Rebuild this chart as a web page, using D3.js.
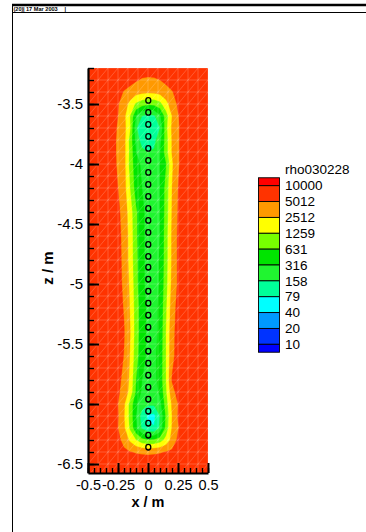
<!DOCTYPE html>
<html><head><meta charset="utf-8">
<script src="https://cdn.jsdelivr.net/npm/d3@7"></script>
<style>html,body{margin:0;padding:0;background:#fff;} svg{display:block;font-family:"Liberation Sans",Arial,sans-serif;}</style>
</head><body><svg id="c" width="366" height="532"></svg>
<script>
// ---- data ----
const xNodes = [-0.5,-0.35,-0.3,-0.25,-0.2,-0.15,-0.1,-0.05,0,0.05,0.1,0.15,0.2,0.25,0.3,0.35,0.5];
const zNodes = [-3.2,-3.3,-3.4,-3.5,-3.6,-3.7,-3.8,-3.9,-4.0,-4.2,-4.4,-4.6,-4.8,-5.0,-5.2,-5.4,-5.6,-5.8,-5.9,-6.0,-6.1,-6.2,-6.3,-6.4,-6.5,-6.6];
// log10(rho) at the nodes, one row per z node
const logRho = [
[3.85,3.85,3.85,3.85,3.85,3.85,3.85,3.85,3.85,3.85,3.85,3.85,3.85,3.85,3.85,3.85,3.85],
[3.85,3.85,3.85,3.85,3.84,3.8,3.73,3.67,3.65,3.66,3.7,3.78,3.84,3.85,3.85,3.85,3.85],
[3.85,3.85,3.85,3.8,3.68,3.6,3.52,3.47,3.45,3.46,3.5,3.58,3.68,3.8,3.85,3.85,3.85],
[3.85,3.85,3.84,3.72,3.55,3.32,3.05,2.92,2.85,2.88,3.0,3.3,3.55,3.74,3.84,3.85,3.85],
[3.85,3.85,3.83,3.7,3.48,3.1,2.5,2.2,2.1,2.15,2.45,2.95,3.4,3.68,3.83,3.85,3.85],
[3.85,3.85,3.84,3.66,3.5,3.14,2.25,1.95,1.93,1.97,2.2,3.0,3.45,3.66,3.84,3.85,3.85],
[3.85,3.85,3.82,3.64,3.5,3.0,2.4,2.05,2.0,2.1,2.4,2.95,3.42,3.66,3.84,3.85,3.85],
[3.85,3.85,3.82,3.64,3.5,3.02,2.5,2.28,2.2,2.24,2.48,2.95,3.42,3.66,3.84,3.85,3.85],
[3.85,3.85,3.83,3.65,3.5,3.0,2.6,2.45,2.4,2.42,2.5,2.78,3.35,3.66,3.84,3.85,3.85],
[3.85,3.85,3.83,3.7,3.52,3.1,2.65,2.5,2.42,2.42,2.5,2.9,3.4,3.7,3.84,3.85,3.85],
[3.85,3.85,3.83,3.76,3.58,3.25,2.85,2.55,2.42,2.4,2.5,2.92,3.42,3.72,3.84,3.85,3.85],
[3.85,3.85,3.83,3.8,3.6,3.3,2.85,2.55,2.42,2.4,2.5,2.95,3.45,3.75,3.84,3.85,3.85],
[3.85,3.85,3.84,3.8,3.62,3.3,2.88,2.55,2.43,2.42,2.52,2.95,3.45,3.75,3.84,3.85,3.85],
[3.85,3.85,3.84,3.81,3.64,3.35,2.9,2.55,2.43,2.42,2.52,2.98,3.48,3.74,3.84,3.85,3.85],
[3.85,3.85,3.84,3.82,3.68,3.38,2.95,2.6,2.45,2.43,2.55,3.05,3.55,3.8,3.84,3.85,3.85],
[3.85,3.85,3.84,3.83,3.72,3.42,2.95,2.6,2.45,2.43,2.55,3.1,3.6,3.82,3.84,3.85,3.85],
[3.85,3.85,3.84,3.82,3.69,3.38,2.92,2.58,2.45,2.45,2.58,3.1,3.62,3.82,3.84,3.85,3.85],
[3.85,3.85,3.84,3.78,3.62,3.35,2.8,2.5,2.42,2.42,2.6,3.1,3.72,3.84,3.85,3.85,3.85],
[3.85,3.85,3.84,3.74,3.6,3.3,2.75,2.45,2.35,2.38,2.55,3.05,3.6,3.8,3.85,3.85,3.85],
[3.85,3.85,3.83,3.7,3.45,3.0,2.55,2.35,2.25,2.25,2.4,2.95,3.45,3.7,3.84,3.85,3.85],
[3.85,3.85,3.82,3.72,3.42,3.0,2.5,2.05,1.85,1.82,2.2,2.85,3.4,3.72,3.83,3.85,3.85],
[3.85,3.85,3.82,3.7,3.45,3.05,2.55,2.15,1.95,1.92,2.25,2.9,3.42,3.68,3.83,3.85,3.85],
[3.85,3.85,3.84,3.78,3.6,3.35,3.1,2.9,2.8,2.82,2.95,3.2,3.5,3.76,3.84,3.85,3.85],
[3.85,3.85,3.85,3.82,3.76,3.71,3.68,3.66,3.65,3.66,3.68,3.71,3.76,3.82,3.85,3.85,3.85],
[3.85,3.85,3.85,3.85,3.85,3.85,3.85,3.85,3.85,3.85,3.85,3.85,3.85,3.85,3.85,3.85,3.85],
[3.85,3.85,3.85,3.85,3.85,3.85,3.85,3.85,3.85,3.85,3.85,3.85,3.85,3.85,3.85,3.85,3.85]
];
const legendTitle = "rho030228";
const legendValues = [10000,5012,2512,1259,631,316,158,79,40,20,10];
// band colours from lowest (<10) to highest (>10000)
const bandColors = ["#0000FF","#0033FF","#0099FF","#00FFFF","#00FF99","#20F530","#00E400","#77FF00","#FFFF00","#FF9900","#FF3300","#FF0000"];
const electrodeX = 0;
const electrodeZ = [-3.47,-3.57,-3.67,-3.77,-3.87,-3.97,-4.07,-4.17,-4.27,-4.37,-4.47,-4.57,-4.67,-4.77,-4.86,-4.96,-5.06,-5.16,-5.26,-5.36,-5.46,-5.56,-5.66,-5.76,-5.86,-5.96,-6.06,-6.16,-6.26,-6.36];
const yTicks = [-3.5,-4,-4.5,-5,-5.5,-6,-6.5];
const yTickLabels = ["-3.5","-4","-4.5","-5","-5.5","-6","-6.5"];
const xTicks = [-0.5,-0.25,0,0.25,0.5];
const xTickLabels = ["-0.5","-0.25","0","0.25","0.5"];
const headerParts = ["(20)","|","17 Mar 2003","|"];

// ---- drawing ----
const svg = d3.select("#c");
const P = {l:88, r:208, t:68, b:473};
const x = d3.scaleLinear().domain([-0.5,0.5]).range([P.l,P.r]);
const y = d3.scaleLinear().domain([-3.2,-6.575]).range([P.t,P.b]);

// frame / header
svg.append("line").attr("x1",12).attr("x2",366).attr("y1",5).attr("y2",5).attr("stroke","#000").attr("stroke-width",2.5);
svg.append("line").attr("x1",12).attr("x2",366).attr("y1",12.5).attr("y2",12.5).attr("stroke","#000").attr("stroke-width",1);
svg.append("line").attr("x1",12.5).attr("x2",12.5).attr("y1",4).attr("y2",532).attr("stroke","#000").attr("stroke-width",1);
const hx = [13.5,23,26,64.5];
svg.append("g").selectAll("text").data(headerParts).join("text")
  .attr("x",(d,i)=>hx[i]).attr("y",10.6).attr("font-size","5.6px").attr("font-weight","bold").text(d=>d);

// clip
svg.append("defs").append("clipPath").attr("id","pc").append("rect")
  .attr("x",P.l).attr("y",P.t).attr("width",P.r-P.l).attr("height",P.b-P.t);
const plot = svg.append("g").attr("clip-path","url(#pc)");

// contours
const nx = xNodes.length, nz = zNodes.length;
const ix = d3.scaleLinear().domain(d3.range(nx)).range(xNodes);
const iz = d3.scaleLinear().domain(d3.range(nz)).range(zNodes);
const values = logRho.flat();
const th = legendValues.slice().reverse().map(v=>Math.log10(v));
const cs = d3.contours().size([nx,nz]).thresholds(th)(values);
const proj = d3.geoTransform({point:function(px,py){ this.stream.point(x(ix(px-0.5)), y(iz(py-0.5))); }});
const gp = d3.geoPath(proj);
plot.append("rect").attr("x",P.l).attr("y",P.t).attr("width",P.r-P.l).attr("height",P.b-P.t).attr("fill",bandColors[0]);
plot.append("g").selectAll("path").data(cs).join("path")
  .attr("d",d=>gp(d)).attr("fill",(d,i)=>bandColors[i+1]).attr("stroke",(d,i)=>bandColors[i+1]).attr("stroke-width",0.3);

// mesh overlay
const meshX = d3.range(0,13).map(k=>-0.5+k/12);
const meshZ = d3.range(0,35).map(k=>-3.2-k*0.1);
let md = "";
meshX.forEach(v=>{ md += `M${x(v)},${P.t}V${P.b}`; });
meshZ.forEach(v=>{ md += `M${P.l},${y(v)}H${P.r}`; });
for (let i=0;i<meshX.length-1;i++) for (let j=0;j<meshZ.length-1;j++) {
  md += `M${x(meshX[i])},${y(meshZ[j+1])}L${x(meshX[i+1])},${y(meshZ[j])}`;
}
plot.append("path").attr("d",md).attr("fill","none").attr("stroke","rgba(255,255,255,0.33)").attr("stroke-width",0.6);

// electrodes
plot.append("g").selectAll("ellipse").data(electrodeZ).join("ellipse")
  .attr("cx",x(electrodeX)+0.3).attr("cy",d=>y(d)).attr("rx",2.5).attr("ry",2.8)
  .attr("fill","none").attr("stroke","#000").attr("stroke-width",1.3);

// axes
function styleAxis(g, w, fs){
  g.selectAll(".tick line").attr("stroke","#000").attr("stroke-width",w);
  g.selectAll(".tick text").attr("fill","#000").attr("font-size",fs).attr("font-family","'Liberation Sans',Arial,sans-serif");
}
const gyMinor = svg.append("g").attr("transform",`translate(${P.l},0)`)
  .call(d3.axisLeft(y).tickValues(d3.range(0,34).map(k=>-3.2-k*0.1)).tickSize(-6).tickFormat(""));
gyMinor.select(".domain").remove(); styleAxis(gyMinor,1.4,"15px");
const gy = svg.append("g").attr("transform",`translate(${P.l},0)`)
  .call(d3.axisLeft(y).tickValues(yTicks).tickFormat((d,i)=>yTickLabels[i]).tickSize(-11).tickSizeOuter(0).tickPadding(5));
gy.select(".domain").attr("stroke","#000").attr("stroke-width",2.2);
styleAxis(gy,2,"15px");

const gxMinor = svg.append("g").attr("transform",`translate(0,${P.b})`)
  .call(d3.axisBottom(x).tickValues(d3.range(0,21).map(k=>-0.5+k*0.05)).tickSize(-5).tickFormat(""));
gxMinor.select(".domain").remove(); styleAxis(gxMinor,1.4,"15px");
const gx = svg.append("g").attr("transform",`translate(0,${P.b})`)
  .call(d3.axisBottom(x).tickValues(xTicks).tickFormat((d,i)=>xTickLabels[i]).tickSize(-10).tickSizeOuter(0).tickPadding(7));
gx.select(".domain").attr("stroke","#000").attr("stroke-width",2.2);
styleAxis(gx,2,"14.5px");

svg.append("text").attr("x",148).attr("y",507).attr("text-anchor","middle")
  .attr("font-size","14.5px").attr("font-weight","bold").text("x / m");
svg.append("text").attr("transform","translate(53,268) rotate(-90)").attr("text-anchor","middle")
  .attr("font-size","15px").attr("font-weight","bold").text("z / m");

// legend
const ly = d3.scaleLinear().domain([0,legendValues.length-1]).range([185.7,344.3]);
const half = (ly(1)-ly(0))/2;
const bands = d3.range(legendValues.length+1).map(k=>{
  const top = k===0 ? ly(0)-half : ly(k-1);
  const bot = k===legendValues.length ? ly(legendValues.length-1)+half : ly(k);
  return {top, bot, color: bandColors[bandColors.length-1-k]};
});
const lg = svg.append("g");
lg.selectAll("rect").data(bands).join("rect")
  .attr("x",258.5).attr("y",d=>d.top).attr("width",21).attr("height",d=>d.bot-d.top)
  .attr("fill",d=>d.color).attr("stroke","#000").attr("stroke-width",0.9);
lg.selectAll("text.lab").data(legendValues).join("text").attr("class","lab")
  .attr("x",285).attr("y",(d,i)=>ly(i)).attr("dy","0.35em").attr("font-size","13.5px").text(d=>d);
lg.append("text").attr("x",285).attr("y",174).attr("font-size","13.5px").text(legendTitle);
</script></body></html>
